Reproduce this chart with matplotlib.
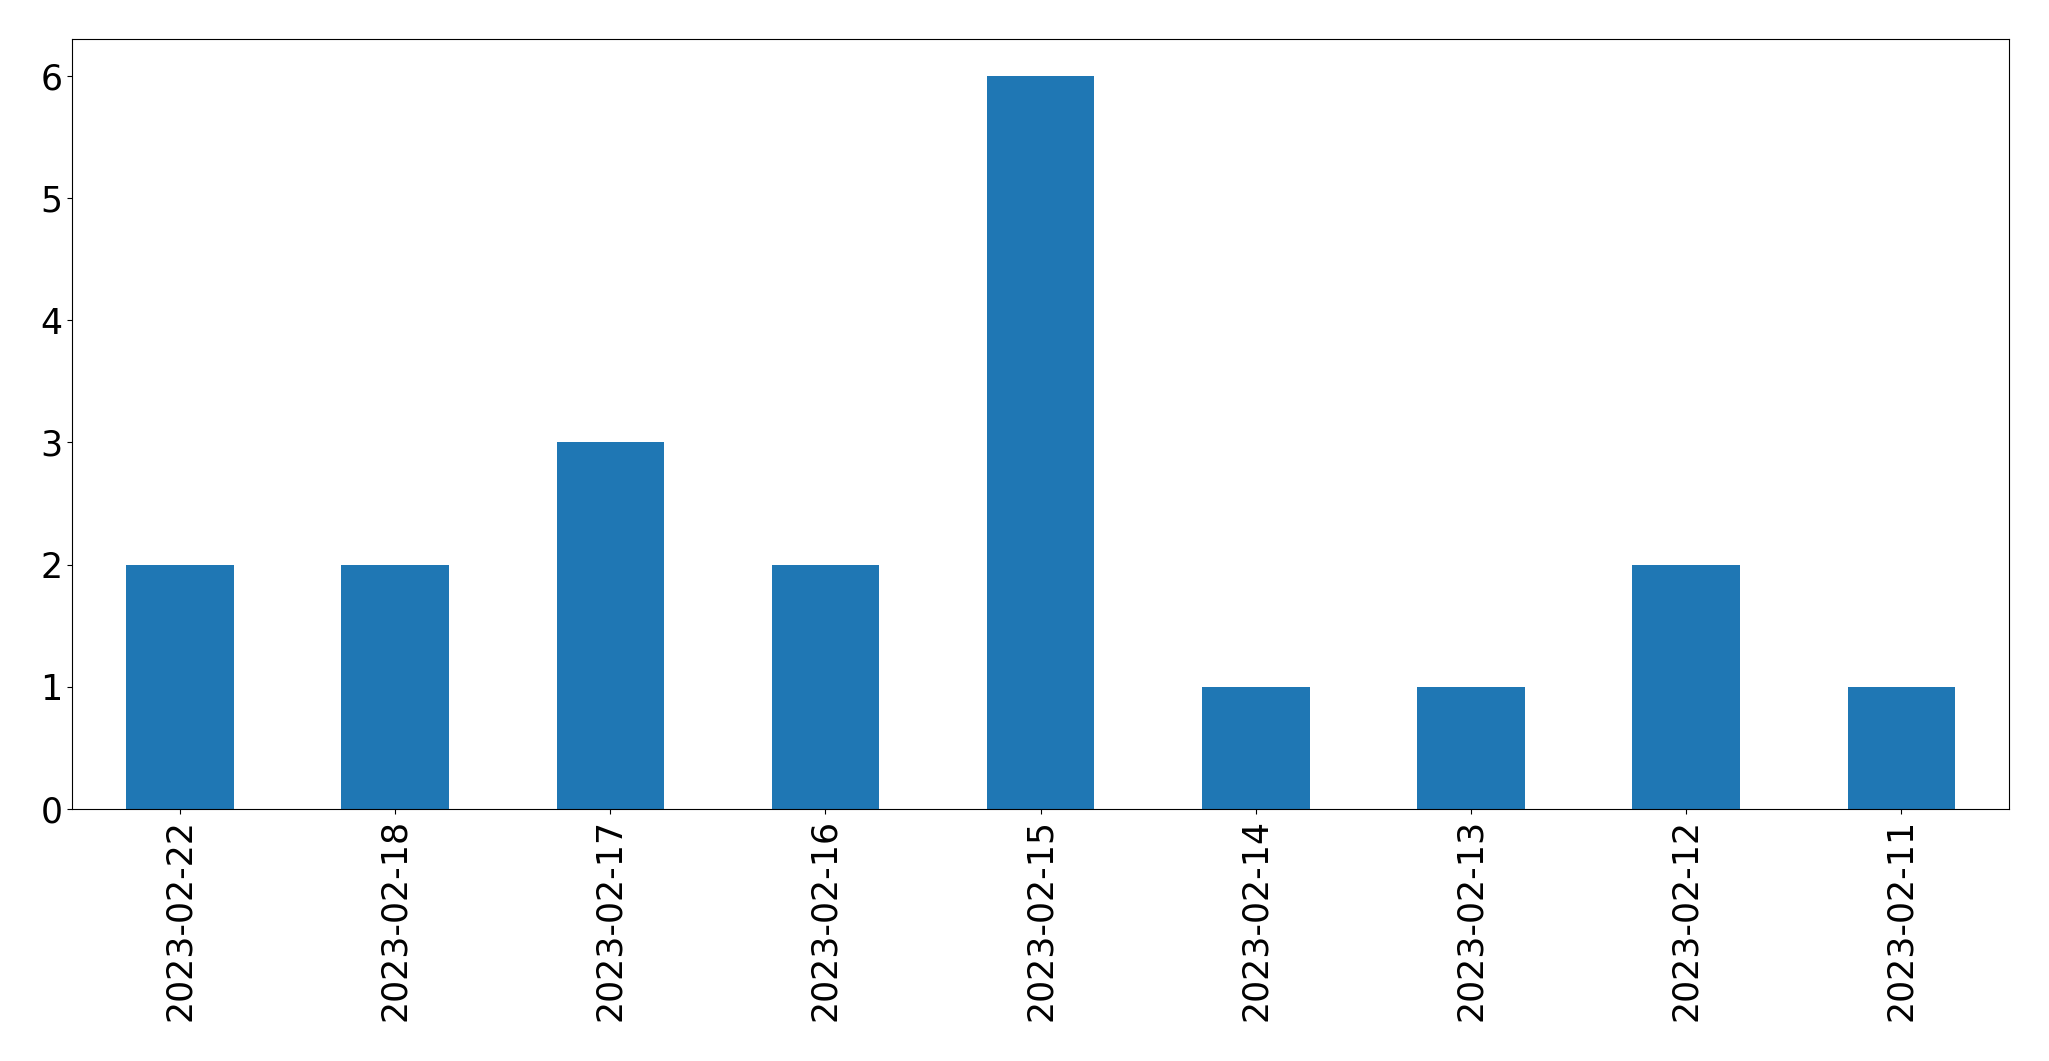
import numpy as np
import matplotlib
matplotlib.use("Agg")
import matplotlib.pyplot as plt

# Counts per date, in the order shown on the chart.
dates = ["2023-02-22", "2023-02-18", "2023-02-17", "2023-02-16", "2023-02-15",
         "2023-02-14", "2023-02-13", "2023-02-12", "2023-02-11"]
counts = [2, 2, 3, 2, 6, 1, 1, 2, 1]

fig = plt.figure(figsize=(20.49, 10.61), dpi=100)
ax = fig.add_axes([0.0353, 0.2375, 0.9452, 0.7257])

x = np.arange(len(dates))
ax.bar(x, counts, width=0.5, color="#1f77b4")
ax.set_xlim(-0.5, len(dates) - 0.5)
ax.set_xticks(x)
ax.set_xticklabels(dates, rotation=90, fontsize=25)
ax.tick_params(axis="y", labelsize=25)

plt.savefig("out.png", dpi=100)
